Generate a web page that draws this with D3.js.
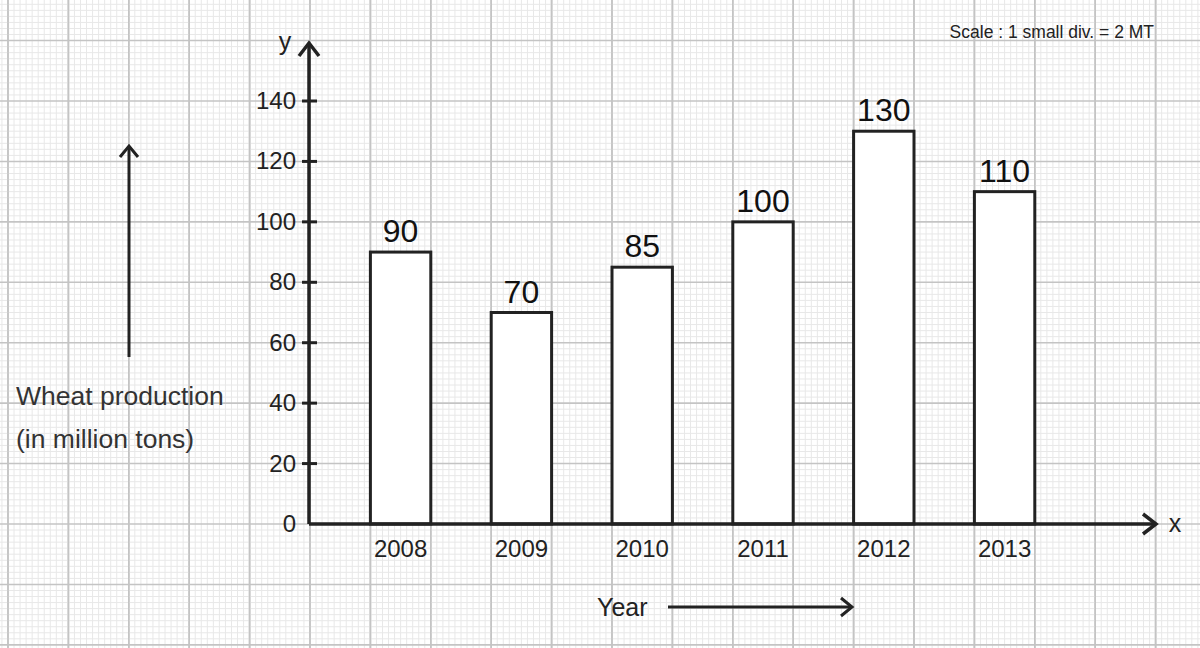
<!DOCTYPE html><html><head><script src="https://cdn.jsdelivr.net/npm/d3@7"></script>
<style>body{margin:0;background:#fff}text{font-family:"Liberation Sans",Arial,sans-serif}</style></head><body>
<svg id="c" width="1200" height="648"></svg>
<script>
const years=["2008","2009","2010","2011","2012","2013"];
const production=[90,70,85,100,130,110];
const yTicks=[0,20,40,60,80,100,120,140];
const svg=d3.select("#c");
const y=d3.scaleLinear().domain([0,140]).range([524,101]);
const ux=d3.scaleLinear().domain([0,20]).range([310,370.4]);
const x=d3.scaleBand().domain(years).range([310,310+6.5*120.8]).paddingInner(0.5).paddingOuter(0.5);
const g=svg.append("g");
const vx=d3.range(-102,296,2), hy=d3.range(-40,176,2);
g.selectAll(".vl").data(vx).join("line").attr("x1",d=>ux(d)).attr("x2",d=>ux(d)).attr("y1",0).attr("y2",648)
 .attr("stroke",d=>d%20===0?"#c4c4c4":"#e8e8e8").attr("stroke-width",d=>d%20===0?1.6:1);
g.selectAll(".hl").data(hy).join("line").attr("y1",d=>y(d)).attr("y2",d=>y(d)).attr("x1",0).attr("x2",1200)
 .attr("stroke",d=>d%20===0?"#c4c4c4":"#e8e8e8").attr("stroke-width",d=>d%20===0?1.6:1);
g.selectAll(".vl2").data(vx.filter(d=>d%20===0)).join("line").attr("x1",d=>ux(d)).attr("x2",d=>ux(d)).attr("y1",0).attr("y2",648).attr("stroke","#c4c4c4").attr("stroke-width",1.6);
const ink="#222";
svg.selectAll(".bar").data(production).join("rect").attr("x",(d,i)=>x(years[i])).attr("width",x.bandwidth())
 .attr("y",d=>y(d)).attr("height",d=>y(0)-y(d)).attr("fill","#fff").attr("stroke",ink).attr("stroke-width",3);
svg.selectAll(".bl").data(production).join("text").attr("x",(d,i)=>x(years[i])+x.bandwidth()/2).attr("y",d=>y(d)-10)
 .attr("text-anchor","middle").attr("font-size",32).attr("fill","#111").text(d=>d);
svg.append("line").attr("x1",309).attr("x2",309).attr("y1",y(0)).attr("y2",44).attr("stroke",ink).attr("stroke-width",3.5);
svg.append("path").attr("d","M299,56 L309,43 L319,56").attr("fill","none").attr("stroke",ink).attr("stroke-width",3.5);
svg.append("line").attr("x1",309).attr("x2",1155).attr("y1",y(0)).attr("y2",y(0)).attr("stroke",ink).attr("stroke-width",3.5);
svg.append("path").attr("d",`M1143,${y(0)-10} L1156,${y(0)} L1143,${y(0)+10}`).attr("fill","none").attr("stroke",ink).attr("stroke-width",3.5);
svg.selectAll(".tk").data(yTicks.slice(1)).join("line").attr("x1",302).attr("x2",317).attr("y1",d=>y(d)).attr("y2",d=>y(d)).attr("stroke",ink).attr("stroke-width",3);
svg.selectAll(".tl").data(yTicks).join("text").attr("x",296).attr("y",d=>y(d)+8).attr("text-anchor","end").attr("font-size",24).attr("fill","#222").text(d=>d);
svg.selectAll(".xl").data(years).join("text").attr("x",d=>x(d)+x.bandwidth()/2).attr("y",557).attr("text-anchor","middle").attr("font-size",24).attr("fill","#222").text(d=>d);
svg.append("text").attr("x",285).attr("y",50).attr("text-anchor","middle").attr("font-size",25).attr("fill","#222").text("y");
svg.append("text").attr("x",1175).attr("y",532).attr("text-anchor","middle").attr("font-size",25).attr("fill","#222").text("x");
svg.append("text").attr("x",1154).attr("y",38).attr("text-anchor","end").attr("font-size",17.5).attr("fill","#222").text("Scale : 1 small div. = 2 MT");
svg.append("text").attr("x",16).attr("y",405).attr("font-size",26.5).attr("fill","#333").text("Wheat production");
svg.append("text").attr("x",16).attr("y",448).attr("font-size",26.5).attr("fill","#333").text("(in million tons)");
svg.append("line").attr("x1",129).attr("x2",129).attr("y1",357).attr("y2",147).attr("stroke",ink).attr("stroke-width",3);
svg.append("path").attr("d","M120,157 L129,146 L138,157").attr("fill","none").attr("stroke",ink).attr("stroke-width",3);
svg.append("text").attr("x",597).attr("y",616).attr("font-size",25).attr("fill","#222").text("Year");
svg.append("line").attr("x1",668).attr("x2",851).attr("y1",607).attr("y2",607).attr("stroke",ink).attr("stroke-width",3);
svg.append("path").attr("d","M841,598 L852,607 L841,616").attr("fill","none").attr("stroke",ink).attr("stroke-width",3);
</script></body></html>
